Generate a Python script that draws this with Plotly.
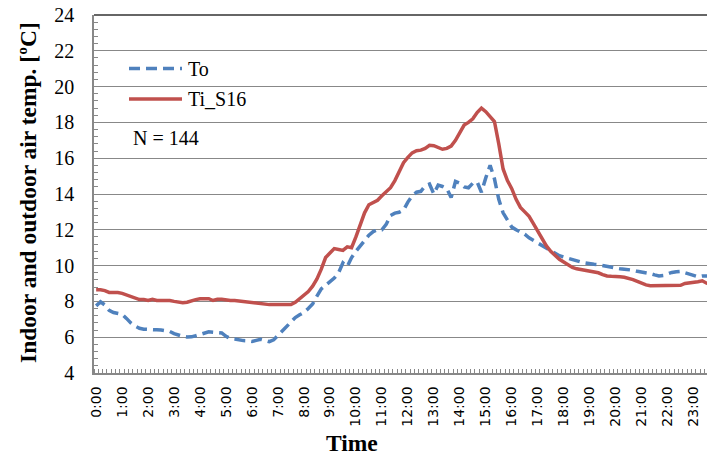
import plotly.graph_objects as go

# 10-minute slots over one day
slots = list(range(144))
hour_labels = [f"{h}:00" for h in range(24)]
hour_slots = [h * 6 for h in range(24)]

# Outdoor air temperature (°C)
to_vals = [
    7.75, 7.98, 7.80, 7.50, 7.38, 7.32, 7.28, 7.05, 6.80, 6.62,
    6.50, 6.45, 6.42, 6.42, 6.41, 6.40, 6.36, 6.32, 6.20, 6.10,
    6.05, 6.01, 6.02, 6.08, 6.16, 6.25, 6.30, 6.28, 6.24, 6.24,
    6.05, 5.93, 5.90, 5.85, 5.81, 5.80, 5.76, 5.82, 5.88, 5.82,
    5.75, 5.85, 6.10, 6.35, 6.65, 6.90, 7.10, 7.25, 7.38, 7.60,
    7.85, 8.30, 8.70, 8.90, 9.10, 9.30, 9.60, 10.15, 9.95, 10.45,
    10.80, 11.10, 11.45, 11.70, 11.90, 12.00, 12.00, 12.30, 12.80, 12.93,
    12.98, 13.10, 13.55, 13.90, 14.10, 14.15, 14.45, 14.55, 14.00, 14.50,
    14.42, 14.30, 13.80, 14.70, 14.60, 14.40, 14.35, 14.60, 14.68, 14.10,
    14.90, 15.60, 14.85, 13.70, 12.95, 12.50, 12.15, 12.00, 11.88, 11.75,
    11.55, 11.40, 11.25, 11.12, 10.95, 10.80, 10.66, 10.55, 10.48, 10.40,
    10.34, 10.25, 10.20, 10.15, 10.10, 10.07, 10.05, 10.00, 9.98, 9.90,
    9.86, 9.82, 9.80, 9.78, 9.74, 9.68, 9.65, 9.60, 9.55, 9.48,
    9.42, 9.45, 9.55, 9.62, 9.66, 9.68, 9.60, 9.52, 9.47, 9.38,
    9.42, 9.45, 9.43, 9.42,
]

# Indoor air temperature, sensor S16 (°C)
ti_vals = [
    8.65, 8.65, 8.60, 8.50, 8.50, 8.50, 8.45, 8.35, 8.25, 8.15,
    8.10, 8.10, 8.05, 8.12, 8.05, 8.05, 8.05, 8.05, 8.00, 7.95,
    7.92, 7.95, 8.05, 8.10, 8.15, 8.15, 8.15, 8.05, 8.12, 8.12,
    8.08, 8.05, 8.05, 8.02, 7.95, 7.93, 7.93, 7.90, 7.85, 7.82,
    7.82, 7.82, 7.82, 7.82, 7.82, 7.82, 7.95, 8.15, 8.35, 8.55,
    8.85, 9.25, 9.80, 10.45, 10.70, 10.95, 10.90, 10.85, 11.05, 11.00,
    11.60, 12.30, 12.95, 13.40, 13.55, 13.65, 13.90, 14.15, 14.35, 14.75,
    15.20, 15.75, 16.05, 16.30, 16.42, 16.45, 16.55, 16.72, 16.70, 16.60,
    16.50, 16.55, 16.68, 17.00, 17.45, 17.85, 18.00, 18.20, 18.55, 18.80,
    18.60, 18.30, 18.05, 16.80, 15.40, 14.75, 14.30, 13.70, 13.25, 13.00,
    12.75, 12.35, 11.95, 11.50, 11.10, 10.80, 10.55, 10.35, 10.20, 10.05,
    9.90, 9.82, 9.78, 9.75, 9.72, 9.68, 9.60, 9.50, 9.42, 9.40,
    9.40, 9.38, 9.35, 9.30, 9.22, 9.12, 9.02, 8.92, 8.88, 8.88,
    8.88, 8.88, 8.88, 8.88, 8.88, 8.90, 9.00, 9.02, 9.05, 9.10,
    9.15, 9.02, 8.98, 8.95,
]

BLUE = "#4F81BD"
RED = "#C0504D"
GRID = "#888888"
SERIF = "Liberation Serif, Times New Roman, serif"
SANS = "DejaVu Sans, Verdana, sans-serif"
TO_DASH = "11px,6px"
LW = 3.5

fig = go.Figure()
fig.add_trace(go.Scatter(x=slots, y=to_vals, mode="lines", name="To",
                         line=dict(color=BLUE, width=LW, dash=TO_DASH)))
fig.add_trace(go.Scatter(x=slots, y=ti_vals, mode="lines", name="Ti_S16",
                         line=dict(color=RED, width=LW)))

W, H = 707, 457
L, R, T, B = 94, 0, 15, 84
pw, ph = W - L - R, H - T - B


def px(x):
    return (x - L) / pw


def py(y):
    return 1 - (y - T) / ph


shapes = [
    # top frame line
    dict(type="line", xref="paper", yref="paper", x0=0, x1=1, y0=1, y1=1,
         line=dict(color="#333333", width=1.5)),
    # legend samples
    dict(type="line", xref="paper", yref="paper", x0=px(129), x1=px(182),
         y0=py(68.5), y1=py(68.5), line=dict(color=BLUE, width=LW, dash=TO_DASH)),
    dict(type="line", xref="paper", yref="paper", x0=px(129), x1=px(182),
         y0=py(99), y1=py(99), line=dict(color=RED, width=LW)),
]

legend_font = dict(family=SERIF, size=20, color="black")
title_font = dict(family=SERIF, size=23.5, color="black")

annotations = [
    dict(text="To", x=px(186), y=py(69), xref="paper", yref="paper",
         xanchor="left", yanchor="middle", showarrow=False, font=legend_font),
    dict(text="Ti_S16", x=px(186), y=py(99), xref="paper", yref="paper",
         xanchor="left", yanchor="middle", showarrow=False, font=legend_font),
    dict(text="N = 144", x=px(131), y=py(138), xref="paper", yref="paper",
         xanchor="left", yanchor="middle", showarrow=False, font=legend_font),
    dict(text="<b>Time</b>", x=px(352), y=py(443), xref="paper", yref="paper",
         xanchor="center", yanchor="middle", showarrow=False, font=title_font),
    dict(text="<b>Indoor and outdoor air temp. [ºC]</b>", x=px(28), y=py(193),
         xref="paper", yref="paper", xanchor="center", yanchor="middle",
         textangle=-90, showarrow=False, font=title_font),
]

fig.update_layout(
    width=W, height=H,
    margin=dict(l=L, r=R, t=T, b=B, pad=0),
    paper_bgcolor="white", plot_bgcolor="white",
    showlegend=False,
    shapes=shapes,
    annotations=annotations,
    xaxis=dict(
        range=[-0.5, 141.1],
        tickmode="array", tickvals=hour_slots, ticktext=hour_labels,
        tickangle=-90, ticks="", showgrid=False, zeroline=False,
        showline=True, linecolor=GRID, linewidth=1.5,
        tickfont=dict(family=SANS, size=14, color="black"),
        ticklabelstandoff=6,
        minor=dict(tick0=-0.5, dtick=1, ticks="inside", ticklen=4,
                   tickcolor=GRID, tickwidth=1, showgrid=False),
    ),
    yaxis=dict(
        range=[4, 24], dtick=2, tick0=4,
        showgrid=True, gridcolor=GRID, gridwidth=1.3, zeroline=False,
        showline=True, linecolor=GRID, linewidth=1.5,
        ticks="inside", ticklen=5, tickcolor=GRID, tickwidth=1,
        tickfont=dict(family=SERIF, size=20, color="black"),
        ticklabelstandoff=14,
        minor=dict(dtick=0.4, ticks="inside", ticklen=4, tickcolor=GRID,
                   tickwidth=1, showgrid=False),
    ),
)

fig.write_html("out.html")
